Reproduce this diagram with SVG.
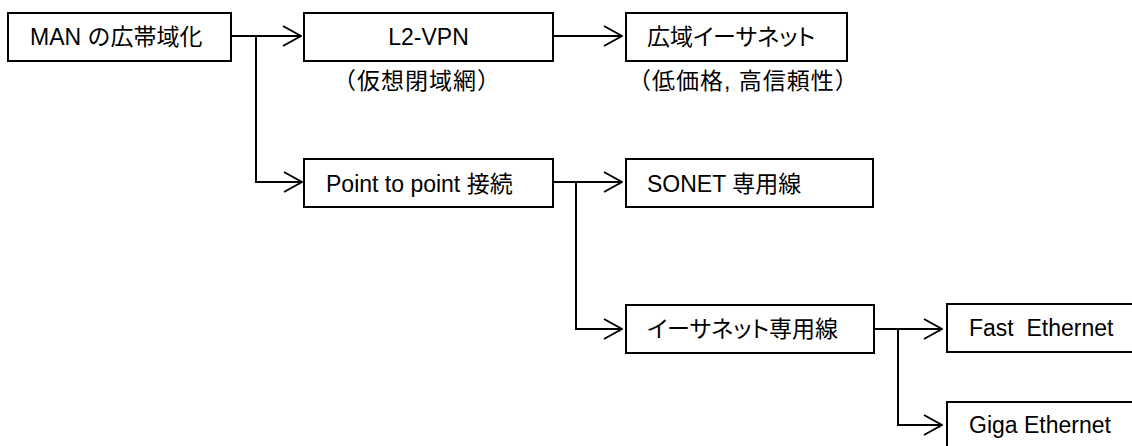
<svg xmlns="http://www.w3.org/2000/svg" width="1132" height="446" viewBox="0 0 1132 446">
<style>
  .box { fill: #ffffff; stroke: #000000; stroke-width: 2; }
  .lbl { font-family: "Liberation Sans", "Noto Sans CJK JP", sans-serif; font-size: 23px; fill: #000000; white-space: pre; }
  .kana { font-feature-settings: "palt"; }
  .sub { letter-spacing: 1px; }
  .conn { fill: none; stroke: #000000; stroke-width: 2; }
</style>
<defs>
  <marker id="arr" viewBox="0 0 20 24" refX="19" refY="12" markerWidth="20" markerHeight="24" markerUnits="userSpaceOnUse" orient="auto">
    <path d="M1,2 L19,12 L1,22" fill="none" stroke="#000000" stroke-width="2"/>
  </marker>
</defs>
<rect width="1132" height="446" fill="#ffffff"/>
<g id="connectors">
  <path class="conn" d="M231,36 H301" marker-end="url(#arr)"/>
  <path class="conn" d="M256,36 V182 H302" marker-end="url(#arr)"/>
  <path class="conn" d="M553,36 H622" marker-end="url(#arr)"/>
  <path class="conn" d="M553,182 H622" marker-end="url(#arr)"/>
  <path class="conn" d="M576,182 V329 H622" marker-end="url(#arr)"/>
  <path class="conn" d="M874,329 H942" marker-end="url(#arr)"/>
  <path class="conn" d="M898,329 V425 H942" marker-end="url(#arr)"/>
</g>
<g id="node-man">
  <rect class="box" x="8" y="13" width="223" height="48"/>
  <text class="lbl" x="30" y="45">MAN の広帯域化</text>
</g>
<g id="node-l2vpn">
  <rect class="box" x="304" y="13" width="249" height="48"/>
  <text class="lbl" x="428.5" y="45" text-anchor="middle">L2-VPN</text>
  <text class="lbl sub" x="417" y="89" text-anchor="middle">（仮想閉域網）</text>
</g>
<g id="node-wide-ethernet">
  <rect class="box" x="626" y="13" width="221" height="48"/>
  <text class="lbl kana" x="647" y="45">広域イーサネット</text>
  <text class="lbl sub" x="628" y="89">（低価格, 高信頼性）</text>
</g>
<g id="node-p2p">
  <rect class="box" x="304" y="159" width="249" height="48"/>
  <text class="lbl" x="326" y="192">Point to point 接続</text>
</g>
<g id="node-sonet">
  <rect class="box" x="626" y="159" width="247" height="48"/>
  <text class="lbl" x="647" y="192">SONET 専用線</text>
</g>
<g id="node-ether-line">
  <rect class="box" x="626" y="305" width="248" height="48"/>
  <text class="lbl kana" x="647" y="337">イーサネット専用線</text>
</g>
<g id="node-fast">
  <rect class="box" x="947" y="304" width="200" height="48"/>
  <text class="lbl" x="969" y="336" xml:space="preserve">Fast  Ethernet</text>
</g>
<g id="node-giga">
  <rect class="box" x="947" y="402" width="200" height="48"/>
  <text class="lbl" x="969" y="433">Giga Ethernet</text>
</g>
</svg>
